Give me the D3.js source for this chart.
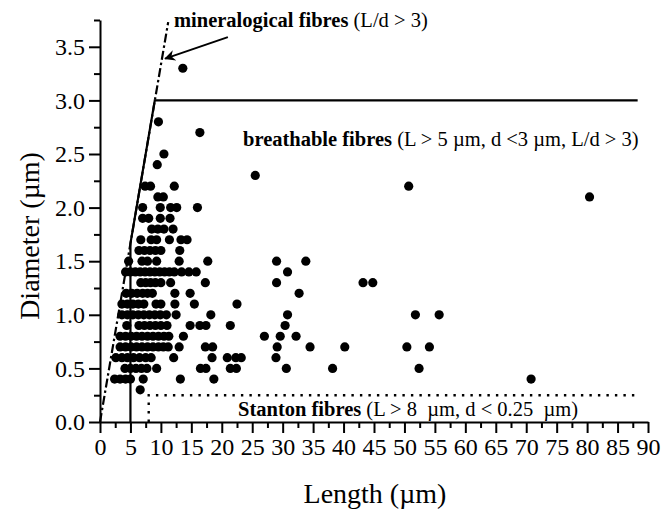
<!DOCTYPE html>
<html>
<head>
<meta charset="UTF-8">
<title>Fibres: Diameter vs Length</title>
<style>
  body { margin: 0; background: #fff; }
  svg { display: block; font-family: "Liberation Serif", "Times New Roman", serif; }
</style>
</head>
<body>
<svg></svg>
<script src="https://d3js.org/d3.v7.min.js"></script>
<script>

/* DATA */

// each row of points shares one diameter (µm); lengths (µm)
var rowDiameters = [3.3, 2.8, 2.7, 2.5, 2.4, 2.3, 2.2, 2.1, 2.0, 1.9, 1.8, 1.7, 1.6, 1.5,
  1.4, 1.3, 1.2, 1.1, 1.0, 0.9, 0.8, 0.7, 0.6, 0.5, 0.4, 0.3];
var rowLengths = [
  [13.6],
  [9.6],
  [16.4],
  [10.5],
  [9.4],
  [25.5],
  [7.4, 8.3, 12.2, 50.7],
  [9.5, 10.4, 80.4],
  [7.0, 9.9, 11.6, 12.6, 16.0],
  [7.0, 8.0, 9.9, 11.5],
  [8.5, 9.5, 10.5, 12.0],
  [6.7, 8.4, 9.3, 11.4, 13.3, 14.3],
  [6.4, 7.3, 8.2, 9.1, 10.0, 13.1],
  [4.7, 6.9, 7.8, 9.3, 13.0, 17.7, 29.0, 33.8],
  [4.2, 5.0, 5.8, 6.6, 7.4, 8.2, 9.0, 9.8, 10.6, 11.4, 12.2, 13.4, 14.6, 15.8, 30.8],
  [6.7, 7.5, 8.3, 9.1, 10.0, 11.6, 17.3, 29.0, 43.2, 44.8],
  [4.3, 5.2, 6.1, 7.0, 7.8, 8.6, 12.3, 14.8, 32.7],
  [3.6, 4.5, 5.4, 6.3, 7.2, 9.2, 10.0, 12.3, 15.5, 22.5],
  [3.6, 4.5, 5.4, 6.3, 7.2, 8.1, 9.0, 9.9, 10.9, 12.5, 18.2, 30.8, 51.8, 55.7],
  [4.4, 6.4, 7.3, 8.2, 9.1, 10.0, 11.0, 14.8, 16.4, 17.4, 21.4, 30.4],
  [3.3, 4.2, 5.1, 6.0, 6.9, 7.8, 8.7, 9.6, 10.5, 11.3, 13.7, 27.0, 29.6, 32.2],
  [3.3, 4.2, 5.1, 6.0, 6.9, 7.8, 8.7, 9.6, 10.4, 11.2, 13.0, 17.3, 18.5, 29.1, 34.5, 40.2, 50.4, 54.1],
  [2.6, 3.6, 4.5, 5.5, 6.5, 7.5, 8.4, 12.1, 18.4, 20.9, 22.3, 23.2, 28.9],
  [4.1, 5.0, 5.9, 6.8, 7.7, 9.3, 16.5, 17.4, 21.4, 22.4, 30.6, 38.2, 52.4],
  [2.4, 3.3, 4.2, 5.0, 7.1, 13.2, 18.7, 70.8],
  [6.6]
];

// tick values and labels
var xTicks = [0, 5, 10, 15, 20, 25, 30, 35, 40, 45, 50, 55, 60, 65, 70, 75, 80, 85, 90];
var xMinorTicks = [2.5, 7.5, 12.5, 17.5, 22.5, 27.5, 32.5, 37.5, 42.5, 47.5, 52.5, 57.5, 62.5, 67.5, 72.5, 77.5, 82.5, 87.5];
var yTicks = [0, 0.5, 1.0, 1.5, 2.0, 2.5, 3.0, 3.5];
var yTickLabels = ["0.0", "0.5", "1.0", "1.5", "2.0", "2.5", "3.0", "3.5"];
var yMinorTicks = [0.25, 0.75, 1.25, 1.75, 2.25, 2.75, 3.25, 3.75];

// region boundaries, [length, diameter]
var breathableEdge = [[5, 0], [5, 1.667], [9, 3], [88.3, 3]];
var mineralLine = [[0, 0], [11.2, 3.73]];
var stantonEdge = [[8, 0], [8, 0.25], [88, 0.25]];
var arrowLine = [[21.0, 3.59], [10.7, 3.39]];

var config = {
  "width": 661,
  "height": 511,
  "margin": { "top": 20, "right": 13, "bottom": 89, "left": 100 },
  "dotRadius": 4.6
};

/* BUILD THE CHART */

var points = [];
rowDiameters.forEach(function(d, i){
  rowLengths[i].forEach(function(l){
    points.push({ "length": l, "diameter": d });
  });
});

var svg = d3.select("svg")
  .attr("width", config.width)
  .attr("height", config.height);

var margin = config.margin,
  plotRight = config.width - margin.right,
  plotBottom = config.height - margin.bottom;

var x = d3.scaleLinear().domain([0, 90]).range([margin.left, plotRight]);
var y = d3.scaleLinear().domain([0, 3.75]).range([plotBottom, margin.top]);

svg.append("rect")
  .attr("width", config.width)
  .attr("height", config.height)
  .attr("fill", "#fff");

var line = d3.line()
  .x(function(d){ return x(d[0]); })
  .y(function(d){ return y(d[1]); });

// L/d = 3 line (dash-dot)
svg.append("path")
  .attr("d", line(mineralLine))
  .attr("fill", "none")
  .attr("stroke", "#000")
  .attr("stroke-width", 2.2)
  .attr("stroke-dasharray", "9,3,2.5,3");

// breathable boundary
svg.append("path")
  .attr("d", line(breathableEdge))
  .attr("fill", "none")
  .attr("stroke", "#000")
  .attr("stroke-width", 2.2);

// Stanton boundary (dotted)
svg.append("path")
  .attr("d", line(stantonEdge))
  .attr("fill", "none")
  .attr("stroke", "#000")
  .attr("stroke-width", 2.4)
  .attr("stroke-dasharray", "2.4,6.1");

// arrow
svg.append("defs").append("marker")
  .attr("id", "head")
  .attr("viewBox", "0 0 10 10")
  .attr("refX", 9)
  .attr("refY", 5)
  .attr("markerWidth", 18)
  .attr("markerHeight", 11)
  .attr("markerUnits", "userSpaceOnUse")
  .attr("orient", "auto")
  .append("path")
    .attr("d", "M0,0 L10,5 L0,10 L3,5 Z")
    .attr("fill", "#000");

svg.append("path")
  .attr("d", line(arrowLine))
  .attr("stroke", "#000")
  .attr("stroke-width", 2)
  .attr("marker-end", "url(#head)");

// points
svg.selectAll(".dot")
  .data(points)
  .enter().append("circle")
    .attr("class", "dot")
    .attr("cx", function(d){ return x(d.length); })
    .attr("cy", function(d){ return y(d.diameter); })
    .attr("r", config.dotRadius)
    .attr("fill", "#000");

/* AXES */

svg.append("g")
  .attr("transform", "translate(0," + plotBottom + ")")
  .call(d3.axisBottom(x).tickValues(xTicks).tickSizeInner(11).tickSizeOuter(0).tickPadding(5)
    .tickFormat(d3.format("d")));
svg.append("g")
  .attr("transform", "translate(0," + plotBottom + ")")
  .call(d3.axisBottom(x).tickValues(xMinorTicks).tickSize(6).tickFormat(""))
  .select(".domain").remove();

svg.append("g")
  .attr("transform", "translate(" + margin.left + ",0)")
  .call(d3.axisLeft(y).tickValues(yTicks).tickSizeInner(11).tickSizeOuter(0).tickPadding(4)
    .tickFormat(function(d, i){ return yTickLabels[i]; }));
svg.append("g")
  .attr("transform", "translate(" + margin.left + ",0)")
  .call(d3.axisLeft(y).tickValues(yMinorTicks).tickSize(6).tickFormat(""))
  .select(".domain").remove();

svg.selectAll(".domain, .tick line")
  .attr("stroke", "#000")
  .attr("stroke-width", 2);

svg.selectAll(".tick text")
  .attr("fill", "#000")
  .style("font-family", "'Liberation Serif', serif")
  .style("font-size", "24px");

// axis titles
svg.append("text")
  .attr("x", 375)
  .attr("y", 503)
  .attr("text-anchor", "middle")
  .style("font-size", "28px")
  .text("Length (µm)");

svg.append("text")
  .attr("transform", "translate(39,236) rotate(-90)")
  .attr("text-anchor", "middle")
  .style("font-size", "28px")
  .text("Diameter (µm)");

/* ANNOTATIONS */

function note(xPos, yPos, bold, rest){
  var t = svg.append("text")
    .attr("x", xPos)
    .attr("y", yPos)
    .style("font-size", "20.5px")
    .style("white-space", "pre");
  t.append("tspan").style("font-weight", "bold").text(bold);
  t.append("tspan").text(rest);
}

note(174, 27, "mineralogical fibres", " (L/d > 3)");
note(243, 146, "breathable fibres", " (L > 5 µm, d <3 µm, L/d > 3)");
note(238, 416, "Stanton fibres", " (L > 8  µm, d < 0.25  µm)");

</script>
</body>
</html>
